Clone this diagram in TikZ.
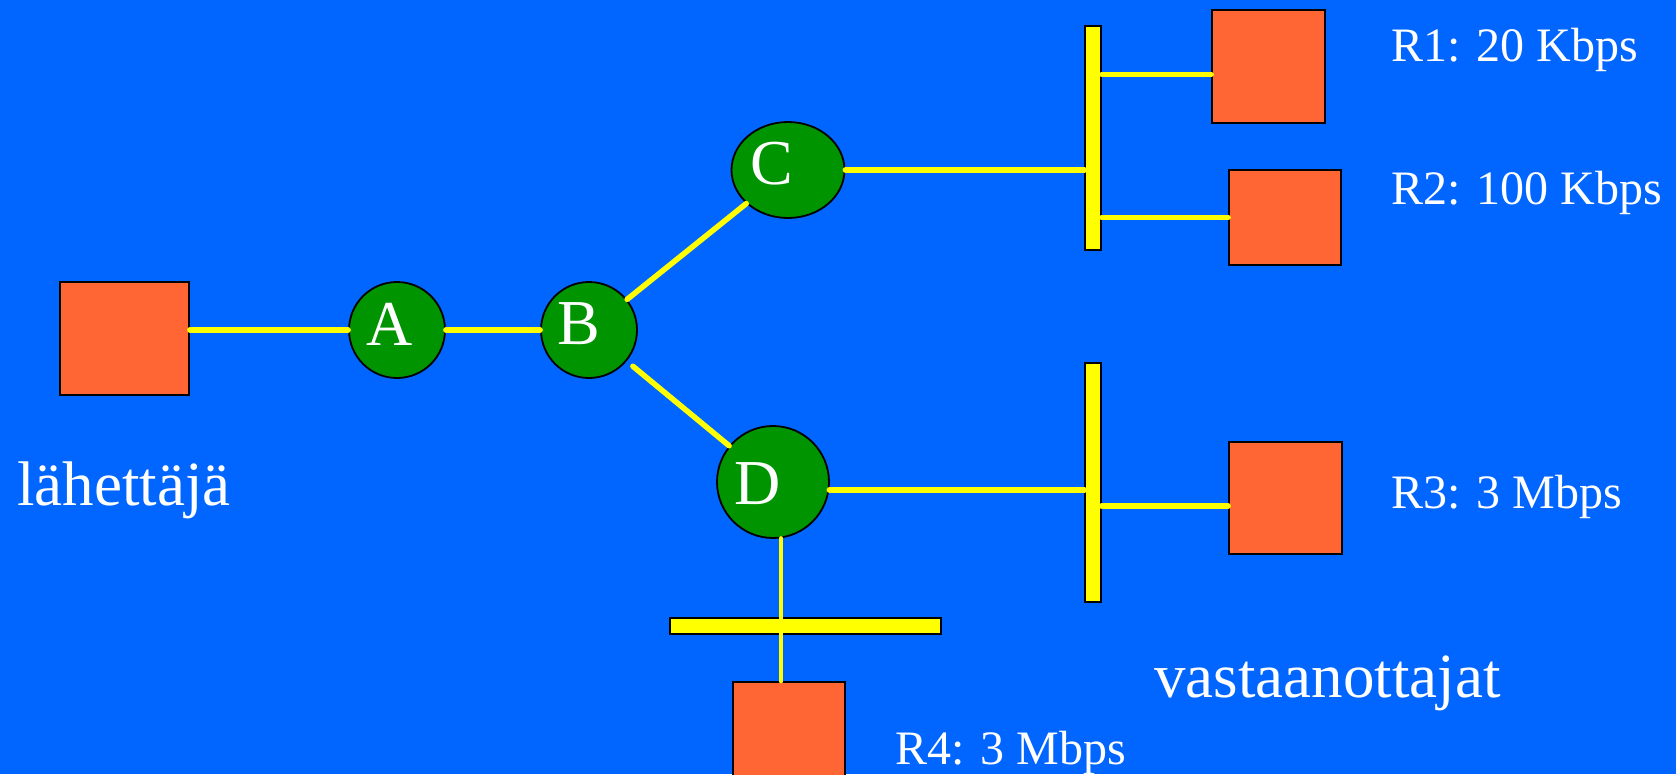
\documentclass[tikz,border=0pt]{standalone}
\usepackage{fontspec}
\setmainfont{Liberation Serif}
\usetikzlibrary{shapes.geometric}
\usetikzlibrary{positioning}
\definecolor{bgblue}{RGB}{0,102,255}
\definecolor{hostorange}{RGB}{255,102,51}
\definecolor{routergreen}{RGB}{0,148,0}
\definecolor{linkyellow}{RGB}{255,255,0}

\begin{document}
\begin{tikzpicture}[x=1pt,y=-1pt,
  host/.style={draw=black, line width=1.8pt, fill=hostorange, rectangle},
  router/.style={draw=black, line width=1.8pt, fill=routergreen, ellipse, inner sep=0pt},
  letter/.style={text=white, inner sep=0pt, font=\fontsize{64}{64}\selectfont},
  bus/.style={draw=black, line width=1.5pt, fill=linkyellow, rectangle, inner sep=0pt},
  link/.style={draw=linkyellow, line width=5.5pt, line cap=round},
  rate/.style={text=white, inner sep=0pt, anchor=base west, font=\fontsize{48}{48}\selectfont},
  big/.style={text=white, inner sep=0pt, anchor=base west, font=\fontsize{63}{63}\selectfont}]
\useasboundingbox (0,0) rectangle (1676,774);
\clip (0,0) rectangle (1676,774);
\fill[bgblue] (0,0) rectangle (1676,774);
% Sender (node)
\node[host, minimum width=129pt, minimum height=113pt] (snd) at (124.5,338.5) {};
\node[big] (sndt) at (17,505) {lähettäjä};
% Routers (nodes)
\node[router, minimum width=96pt, minimum height=96pt, label={[letter, xshift=-7pt, yshift=6pt]center:A}] (A) at (397,330) {};
\node[router, minimum width=96pt, minimum height=96pt, label={[letter, xshift=-10pt, yshift=6pt]center:B}] (B) at (589,330) {};
\node[router, minimum width=113pt, minimum height=96pt, label={[letter, xshift=-16pt, yshift=6pt]center:C}] (C) at (788,170) {};
\node[router, minimum width=112pt, minimum height=112pt, label={[letter, xshift=-15pt, yshift=-2pt]center:D}] (D) at (773,482) {};
% Buses (nodes)
\node[bus, minimum width=16pt, minimum height=224pt] (bus1) at (1093,138) {};
\node[bus, minimum width=16pt, minimum height=239pt] (bus2) at (1093,482.5) {};
\node[bus, minimum width=271pt, minimum height=16pt] (bus3) at (805.5,626) {};
% Receivers (nodes)
\node[host, minimum width=113pt, minimum height=113pt] (r1) at (1268.5,66.5) {};
\node[host, minimum width=112pt, minimum height=95pt] (r2) at (1285,217.5) {};
\node[host, minimum width=113pt, minimum height=112pt] (r3) at (1285.5,498) {};
\node[host, minimum width=112pt, minimum height=112pt] (r4) at (789,738) {};
\node[rate] (r1t) at (1391,61) {R1: 20 Kbps};
\node[rate] (r2t) at (1391,204) {R2: 100 Kbps};
\node[rate] (r3t) at (1391,508) {R3: 3 Mbps};
\node[rate] (r4t) at (895,764) {R4: 3 Mbps};
\node[big] (rcvt) at (1154,697) {vastaanottajat};
% Links
\draw[link] (snd.east |- A.west) -- (A.west);
\draw[link] (A) -- (B);
\draw[link] (B) -- (C);
\draw[link, shorten <=8pt] (B) -- (D);
\draw[link] (C.east) -- (C.east -| bus1.west);
\draw[link] ([yshift=-8pt]r1.west) -- ([yshift=-8pt]r1.west -| bus1.east);
\draw[link] (r2.west) -- (r2.west -| bus1.east);
\draw[link] (D.-8) -- (D.-8 -| bus2.west);
\draw[link] ([yshift=-8pt]r3.west) -- ([yshift=-8pt]r3.west -| bus2.east);
\draw[link, line width=4.5pt] (D.-82) -- (D.-82 |- r4.north);
\end{tikzpicture}
\end{document}
